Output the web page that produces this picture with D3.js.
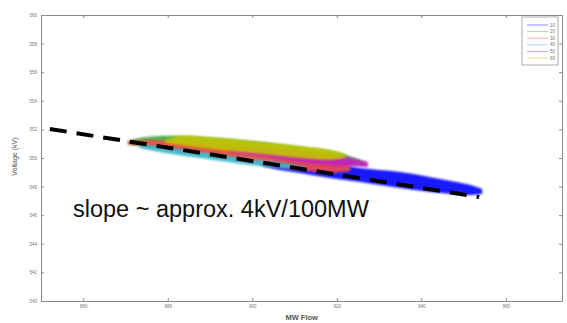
<!DOCTYPE html>
<html>
<head>
<meta charset="utf-8">
<script src="https://cdn.jsdelivr.net/npm/d3@7"></script>
<style>
  body { margin: 0; background: #fff; }
  svg { display: block; font-family: "Liberation Sans", Arial, sans-serif; }
  .axis path, .axis line { stroke: #8a8a8a; }
  .axis text { fill: #777; font-size: 4.5px; }
</style>
</head>
<body>
<svg id="chart" width="567" height="323"></svg>
<script>
// cloud envelopes: [MW, upper kV, lower kV]
const series = ["10", "20", "30", "40", "50", "60"];
const colors = ["#0000ff", "#3fa63f", "#f24a4a", "#33b5c8", "#c21fc2", "#c4c400"];

const band10 = [[902.3, 549.65, 549.44], [906.6, 549.86, 549.16], [911.3, 549.86, 548.95], [918.4, 549.65, 548.60],
  [925.5, 549.30, 548.32], [935.0, 549.02, 547.90], [944.5, 548.53, 547.55], [951.6, 548.11, 547.41], [954.4, 547.83, 547.48]];
const band20 = [[870.6, 551.19, 550.91], [873.4, 551.40, 550.84], [878.2, 551.54, 550.70], [887.6, 551.47, 550.42],
  [899.5, 551.19, 550.00], [911.3, 550.77, 549.65], [920.8, 550.35, 549.51], [926.7, 549.72, 549.51]];
const band30 = [[870.6, 551.19, 550.98], [875.8, 551.26, 550.77], [887.6, 550.98, 550.28], [899.5, 550.56, 549.72],
  [911.3, 550.21, 549.16], [918.4, 549.93, 548.95], [923.2, 549.65, 549.09]];
const band40 = [[873.4, 550.98, 550.70], [879.4, 550.77, 550.35], [887.6, 550.42, 550.00], [899.5, 549.93, 549.51],
  [909.0, 549.58, 549.23], [912.5, 549.37, 549.16]];
const band50 = [[894.7, 550.70, 550.42], [901.9, 550.70, 550.14], [911.3, 550.42, 549.72], [920.8, 550.14, 549.44],
  [927.4, 549.72, 549.37]];
const band60 = [[879.4, 551.26, 551.05], [882.9, 551.54, 550.91], [892.4, 551.40, 550.56], [901.9, 551.12, 550.28],
  [911.3, 550.84, 550.00], [918.4, 550.56, 549.86], [922.0, 550.28, 550.00]];
const bands = [band10, band20, band30, band40, band50, band60];

const slopeLine = [[852.1, 552.03], [953.7, 547.27]];
const xTicks = [860, 880, 900, 920, 940, 960];
const yTicks = [540, 542, 544, 546, 548, 550, 552, 554, 556, 558, 560];

const svg = d3.select("#chart");
const m = { left: 41, right: 5, top: 15, bottom: 22 };
const W = 567, H = 323;

const x = d3.scaleLinear().domain([850, 973.3]).range([m.left, W - m.right]);
const y = d3.scaleLinear().domain([540, 560]).range([H - m.bottom, m.top]);

const defs = svg.append("defs");
defs.append("filter").attr("id", "fuzz")
  .append("feGaussianBlur").attr("stdDeviation", 1);
defs.append("clipPath").attr("id", "plot-clip")
  .append("rect").attr("x", m.left).attr("y", m.top)
  .attr("width", W - m.left - m.right).attr("height", H - m.top - m.bottom);

// frame + ticks (MATLAB style, inward, on all four sides)
svg.append("g").attr("class", "axis")
  .attr("transform", `translate(0,${H - m.bottom})`)
  .call(d3.axisBottom(x).tickValues(xTicks).tickSizeInner(-3).tickSizeOuter(0).tickPadding(4));
svg.append("g").attr("class", "axis")
  .attr("transform", `translate(0,${m.top})`)
  .call(d3.axisTop(x).tickValues(xTicks).tickSizeInner(-3).tickSizeOuter(0).tickFormat(""));
svg.append("g").attr("class", "axis")
  .attr("transform", `translate(${m.left},0)`)
  .call(d3.axisLeft(y).tickValues(yTicks).tickSizeInner(-3).tickSizeOuter(0).tickPadding(4));
svg.append("g").attr("class", "axis")
  .attr("transform", `translate(${W - m.right},0)`)
  .call(d3.axisRight(y).tickValues(yTicks).tickSizeInner(-3).tickSizeOuter(0).tickFormat(""));

// scatter clouds
const area = d3.area()
  .x(d => x(d[0]))
  .y0(d => y(d[2]))
  .y1(d => y(d[1]))
  .curve(d3.curveCatmullRom);

svg.append("g").attr("clip-path", "url(#plot-clip)")
  .selectAll("path.cloud")
  .data(bands)
  .join("path")
  .attr("class", "cloud")
  .attr("d", area)
  .attr("fill", (d, i) => colors[i])
  .attr("fill-opacity", 0.9)
  .attr("filter", "url(#fuzz)");

// fitted slope
svg.append("path")
  .attr("d", d3.line().x(d => x(d[0])).y(d => y(d[1]))(slopeLine))
  .attr("stroke", "#000")
  .attr("stroke-width", 4)
  .attr("stroke-dasharray", "17,10")
  .attr("fill", "none");

svg.append("text")
  .attr("x", 73).attr("y", 217)
  .attr("font-size", 23.5)
  .attr("fill", "#111")
  .text("slope ~ approx. 4kV/100MW");

// axis titles
svg.append("text")
  .attr("x", x(911.7)).attr("y", 320)
  .attr("text-anchor", "middle")
  .attr("font-size", 7.5).attr("font-weight", "bold").attr("fill", "#555")
  .text("MW Flow");
svg.append("text")
  .attr("transform", `translate(17,${y(550.1)}) rotate(-90)`)
  .attr("text-anchor", "middle")
  .attr("font-size", 7).attr("fill", "#555")
  .text("Voltage (kV)");

// legend
const lg = svg.append("g").attr("transform", "translate(522,17)");
lg.append("rect").attr("width", 36).attr("height", 48)
  .attr("fill", "#fff").attr("stroke", "#999").attr("stroke-width", 0.8);
const rows = lg.selectAll("g.row").data(series).join("g")
  .attr("class", "row")
  .attr("transform", (d, i) => `translate(0,${8 + i * 6.6})`);
rows.append("line").attr("x1", 5).attr("x2", 26)
  .attr("stroke", (d, i) => colors[i]).attr("stroke-opacity", 0.45).attr("stroke-width", 1);
rows.append("text").attr("x", 28).attr("y", 1.6)
  .attr("font-size", 4.5).attr("fill", "#777")
  .text(d => d);
</script>
</body>
</html>
